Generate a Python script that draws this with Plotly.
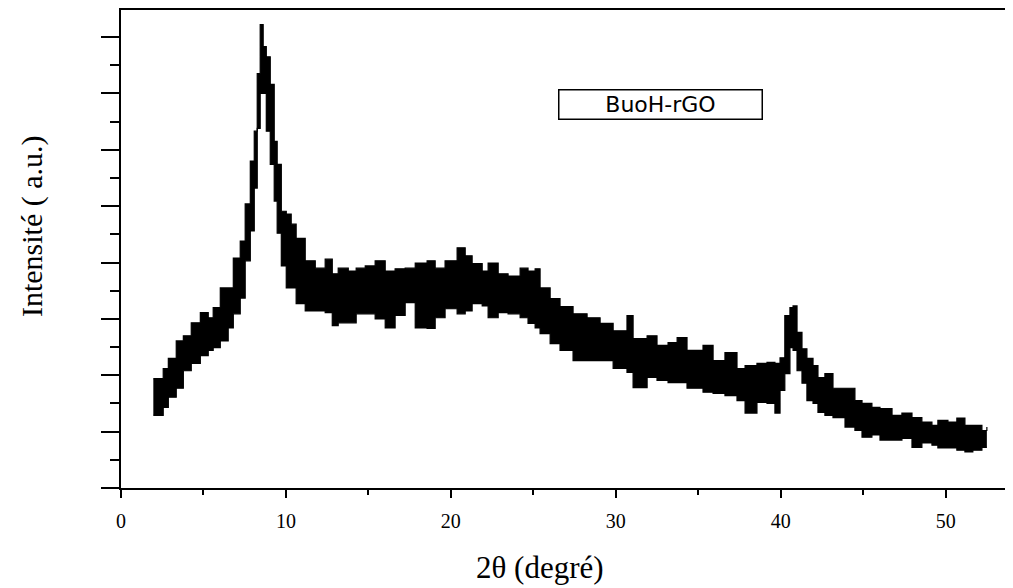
import plotly.graph_objects as go

# 2-theta positions (deg) where the band was read
two_theta = [1.96, 2.56, 2.87, 3.35, 3.78, 4.26, 4.81, 5.29, 5.59, 6.02, 6.50, 6.81, 7.23, 7.53,
             7.84, 8.08, 8.26, 8.44, 8.62, 8.81, 9.05, 9.29, 9.47, 9.72, 10.02, 10.32, 10.62,
             11.17, 11.78, 12.38, 12.81, 13.17, 13.78, 14.26, 14.81, 15.41, 16.02, 16.62, 17.23,
             17.84, 18.56, 19.05, 19.65, 20.38, 20.87, 21.29, 21.90, 22.26, 22.87, 23.47, 24.20,
             24.68, 25.11, 25.41, 26.02, 26.62, 27.41, 28.26, 29.05, 29.84, 30.68, 31.05, 31.90,
             32.50, 33.17, 33.72, 34.32, 35.29, 35.90, 36.62, 37.35, 37.84, 38.56, 39.17, 39.65,
             39.96, 40.25, 40.56, 40.75, 40.99, 41.29, 41.59, 41.96, 42.26, 42.68, 43.17, 43.90,
             44.50, 44.93, 45.53, 46.02, 46.75, 47.35, 47.96, 48.56, 49.17, 49.53, 50.14, 50.68,
             51.17, 51.65, 52.20, 52.50]

# upper edge of the noisy signal (a.u.)
intensity_high = [1.94, 2.12, 2.30, 2.61, 2.70, 2.93, 3.11, 3.02, 3.20, 3.55, 3.55, 4.08, 4.38, 5.04,
                  5.80, 6.33, 7.35, 8.22, 7.83, 7.65, 7.16, 6.15, 5.74, 4.91, 4.86, 4.68, 4.43,
                  4.03, 3.90, 4.06, 3.80, 3.90, 3.85, 3.90, 3.94, 4.03, 3.85, 3.89, 3.90,
                  3.99, 4.03, 3.90, 4.03, 4.26, 4.12, 3.98, 3.85, 3.99, 3.80, 3.76, 3.90,
                  3.85, 3.89, 3.55, 3.36, 3.22, 3.09, 3.02, 2.92, 2.79, 3.06, 2.65, 2.70,
                  2.53, 2.58, 2.67, 2.44, 2.53, 2.26, 2.40, 2.12, 2.17, 2.21, 2.23, 2.21,
                  2.31, 3.06, 3.20, 3.23, 2.76, 2.47, 2.30, 2.17, 1.96, 2.03, 1.77, 1.77,
                  1.55, 1.50, 1.43, 1.41, 1.29, 1.33, 1.25, 1.17, 1.11, 1.20, 1.17, 1.24,
                  1.11, 1.11, 1.02, 1.08]

# lower edge of the noisy signal (a.u.)
intensity_low = [1.29, 1.43, 1.61, 1.77, 2.08, 2.21, 2.35, 2.44, 2.49, 2.61, 2.84, 3.09, 3.37, 4.03,
                 4.56, 5.32, 6.38, 7.00, 7.00, 6.33, 5.74, 5.09, 4.52, 3.94, 3.55, 3.55, 3.27,
                 3.14, 3.14, 3.11, 2.88, 2.93, 2.93, 3.09, 3.09, 3.00, 2.84, 3.06, 3.29,
                 2.84, 2.83, 3.02, 3.18, 3.09, 3.14, 3.27, 3.23, 3.02, 3.11, 3.09, 3.02,
                 2.92, 2.84, 2.74, 2.56, 2.44, 2.26, 2.26, 2.26, 2.12, 2.05, 1.78, 1.96,
                 1.91, 1.87, 1.87, 1.77, 1.70, 1.68, 1.64, 1.55, 1.33, 1.52, 1.50, 1.33,
                 1.73, 2.03, 2.49, 2.44, 2.08, 1.86, 1.55, 1.50, 1.34, 1.29, 1.25, 1.08,
                 1.02, 0.90, 0.94, 0.85, 0.85, 0.88, 0.72, 0.80, 0.76, 0.71, 0.71, 0.67,
                 0.64, 0.67, 0.72, 0.72]

sample_label = "BuoH-rGO"
x_title = "2θ (degré)"
y_title = "Intensité ( a.u.)"
x_ticks = [0, 10, 20, 30, 40, 50]

fig = go.Figure()
fig.add_trace(go.Scatter(x=two_theta, y=intensity_low, mode="lines",
                         line=dict(color="black", width=1.2, shape="hv"),
                         showlegend=False, hoverinfo="skip"))
fig.add_trace(go.Scatter(x=two_theta, y=intensity_high, mode="lines",
                         line=dict(color="black", width=1.2, shape="hv"),
                         fill="tonexty", fillcolor="black",
                         showlegend=False))

fig.update_layout(
    width=1005, height=580,
    margin=dict(l=113, r=8, t=0, b=100),
    paper_bgcolor="white", plot_bgcolor="white",
    showlegend=False,
    xaxis=dict(range=[0, 53.6], showgrid=False, zeroline=False,
               showline=True, linecolor="black", linewidth=2, mirror=True,
               ticks="outside", ticklen=8, tickwidth=2, tickcolor="black",
               tickvals=x_ticks, ticktext=[str(v) for v in x_ticks],
               minor=dict(ticks="outside", ticklen=5, tickwidth=2, tickcolor="black", dtick=5, tick0=0),
               tickfont=dict(family="Liberation Serif", size=20, color="black"),
               ticklabelstandoff=6),
    yaxis=dict(range=[0, 8.48], showgrid=False, zeroline=False,
               showline=True, linecolor="black", linewidth=2, mirror=True,
               ticks="outside", ticklen=18, tickwidth=2, tickcolor="black",
               dtick=1, tick0=0, showticklabels=False,
               minor=dict(ticks="outside", ticklen=9, tickwidth=2, tickcolor="black", dtick=0.5, tick0=0)),
    annotations=[
        dict(text=sample_label, x=0.610, y=0.802, xref="paper", yref="paper",
             xanchor="center", yanchor="middle",
             showarrow=False, font=dict(family="DejaVu Sans", size=22, color="black"),
             bordercolor="black", borderwidth=1.5, borderpad=2, width=198, height=24,
             bgcolor="white"),
        dict(text=x_title, x=0.474, y=-0.167, xref="paper", yref="paper",
             xanchor="center", yanchor="middle",
             showarrow=False, font=dict(family="Liberation Serif", size=31, color="black")),
        dict(text=y_title, x=-0.1007, y=0.548, xref="paper", yref="paper",
             xanchor="center", yanchor="middle",
             showarrow=False, textangle=-90,
             font=dict(family="Liberation Serif", size=30, color="black")),
    ],
)

fig.write_html("out.html")
